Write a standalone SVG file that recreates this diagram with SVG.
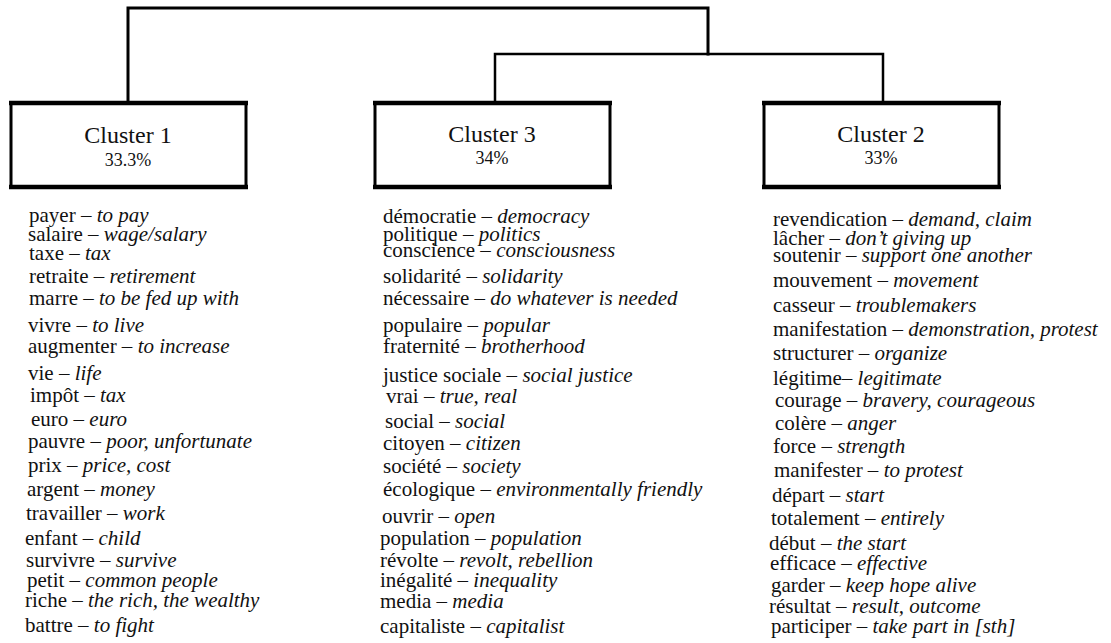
<svg xmlns="http://www.w3.org/2000/svg" width="1111" height="643" viewBox="0 0 1111 643">
<style>
  .box { fill: #fff; stroke: #000; stroke-width: 3; }
  .edge { stroke: #000; stroke-width: 4.5; }
  .conn { fill: none; stroke: #000; stroke-width: 2.5; stroke-linecap: square; }
  .title { font-family: "Liberation Serif", "Times New Roman", serif; font-size: 24px; fill: #111; text-anchor: middle; }
  .pct { font-family: "Liberation Serif", "Times New Roman", serif; font-size: 18px; fill: #111; text-anchor: middle; }
  .w { font-family: "Liberation Serif", "Times New Roman", serif; font-size: 21px; fill: #111; }
  .i { font-style: italic; }
</style>
<rect width="1111" height="643" fill="#fff"/>
<g id="connectors">
  <path class="conn" d="M128,101 V8 H708 V54" style="stroke-width:3"/>
  <path class="conn" d="M495,101 V54 H883 V101"/>
</g>
<g id="cluster1">
  <rect class="box" x="11" y="103" width="235" height="84"/>
  <line class="edge" x1="9" y1="103" x2="248" y2="103"/>
  <line class="edge" x1="9" y1="187" x2="248" y2="187"/>
  <text class="title" x="128" y="143">Cluster 1</text>
  <text class="pct" x="128" y="166">33.3%</text>
</g>
<g id="cluster3">
  <rect class="box" x="375" y="103" width="235" height="84"/>
  <line class="edge" x1="373" y1="103" x2="612" y2="103"/>
  <line class="edge" x1="373" y1="187" x2="612" y2="187"/>
  <text class="title" x="492" y="142">Cluster 3</text>
  <text class="pct" x="492" y="164">34%</text>
</g>
<g id="cluster2">
  <rect class="box" x="764" y="103" width="235" height="84"/>
  <line class="edge" x1="762" y1="103" x2="1001" y2="103"/>
  <line class="edge" x1="762" y1="187" x2="1001" y2="187"/>
  <text class="title" x="881" y="142">Cluster 2</text>
  <text class="pct" x="881" y="164">33%</text>
</g>
<g id="list-cluster1" class="w">
  <text x="29" y="222">payer – <tspan class="i">to pay</tspan></text>
  <text x="28" y="241">salaire – <tspan class="i">wage/salary</tspan></text>
  <text x="29" y="260">taxe – <tspan class="i">tax</tspan></text>
  <text x="29" y="283">retraite – <tspan class="i">retirement</tspan></text>
  <text x="29" y="305">marre – <tspan class="i">to be fed up with</tspan></text>
  <text x="28" y="332">vivre – <tspan class="i">to live</tspan></text>
  <text x="28" y="353">augmenter – <tspan class="i">to increase</tspan></text>
  <text x="28" y="380">vie – <tspan class="i">life</tspan></text>
  <text x="30" y="402">impôt – <tspan class="i">tax</tspan></text>
  <text x="31" y="426">euro – <tspan class="i">euro</tspan></text>
  <text x="28" y="448">pauvre – <tspan class="i">poor, unfortunate</tspan></text>
  <text x="28" y="472">prix – <tspan class="i">price, cost</tspan></text>
  <text x="27" y="496">argent – <tspan class="i">money</tspan></text>
  <text x="26" y="520">travailler – <tspan class="i">work</tspan></text>
  <text x="25" y="545">enfant – <tspan class="i">child</tspan></text>
  <text x="26" y="567">survivre – <tspan class="i">survive</tspan></text>
  <text x="27" y="587">petit – <tspan class="i">common people</tspan></text>
  <text x="25" y="607">riche – <tspan class="i">the rich, the wealthy</tspan></text>
  <text x="25" y="632">battre – <tspan class="i">to fight</tspan></text>
</g>
<g id="list-cluster3" class="w">
  <text x="383" y="223">démocratie – <tspan class="i">democracy</tspan></text>
  <text x="383" y="241">politique – <tspan class="i">politics</tspan></text>
  <text x="383" y="257">conscience – <tspan class="i">consciousness</tspan></text>
  <text x="383" y="283">solidarité – <tspan class="i">solidarity</tspan></text>
  <text x="383" y="305">nécessaire – <tspan class="i">do whatever is needed</tspan></text>
  <text x="383" y="332">populaire – <tspan class="i">popular</tspan></text>
  <text x="383" y="353">fraternité – <tspan class="i">brotherhood</tspan></text>
  <text x="383" y="382">justice sociale – <tspan class="i">social justice</tspan></text>
  <text x="386" y="403">vrai – <tspan class="i">true, real</tspan></text>
  <text x="385" y="428">social – <tspan class="i">social</tspan></text>
  <text x="383" y="450">citoyen – <tspan class="i">citizen</tspan></text>
  <text x="383" y="473">société – <tspan class="i">society</tspan></text>
  <text x="383" y="496">écologique – <tspan class="i">environmentally friendly</tspan></text>
  <text x="382" y="523">ouvrir – <tspan class="i">open</tspan></text>
  <text x="380" y="545">population – <tspan class="i">population</tspan></text>
  <text x="380" y="567">révolte – <tspan class="i">revolt, rebellion</tspan></text>
  <text x="380" y="587">inégalité – <tspan class="i">inequality</tspan></text>
  <text x="380" y="608">media – <tspan class="i">media</tspan></text>
  <text x="380" y="633">capitaliste – <tspan class="i">capitalist</tspan></text>
</g>
<g id="list-cluster2" class="w">
  <text x="773" y="226">revendication – <tspan class="i">demand, claim</tspan></text>
  <text x="773" y="245">lâcher – <tspan class="i">don’t giving up</tspan></text>
  <text x="773" y="262">soutenir – <tspan class="i">support one another</tspan></text>
  <text x="773" y="287">mouvement – <tspan class="i">movement</tspan></text>
  <text x="773" y="312">casseur – <tspan class="i">troublemakers</tspan></text>
  <text x="773" y="336">manifestation – <tspan class="i">demonstration, protest</tspan></text>
  <text x="773" y="360">structurer – <tspan class="i">organize</tspan></text>
  <text x="773" y="385">légitime– <tspan class="i">legitimate</tspan></text>
  <text x="775" y="407">courage – <tspan class="i">bravery, courageous</tspan></text>
  <text x="775" y="430">colère – <tspan class="i">anger</tspan></text>
  <text x="773" y="453">force – <tspan class="i">strength</tspan></text>
  <text x="774" y="477">manifester – <tspan class="i">to protest</tspan></text>
  <text x="772" y="502">départ – <tspan class="i">start</tspan></text>
  <text x="771" y="525">totalement – <tspan class="i">entirely</tspan></text>
  <text x="769" y="550">début – <tspan class="i">the start</tspan></text>
  <text x="770" y="570">efficace – <tspan class="i">effective</tspan></text>
  <text x="771" y="592">garder – <tspan class="i">keep hope alive</tspan></text>
  <text x="769" y="613">résultat – <tspan class="i">result, outcome</tspan></text>
  <text x="771" y="633">participer – <tspan class="i">take part in [sth]</tspan></text>
</g>
</svg>
